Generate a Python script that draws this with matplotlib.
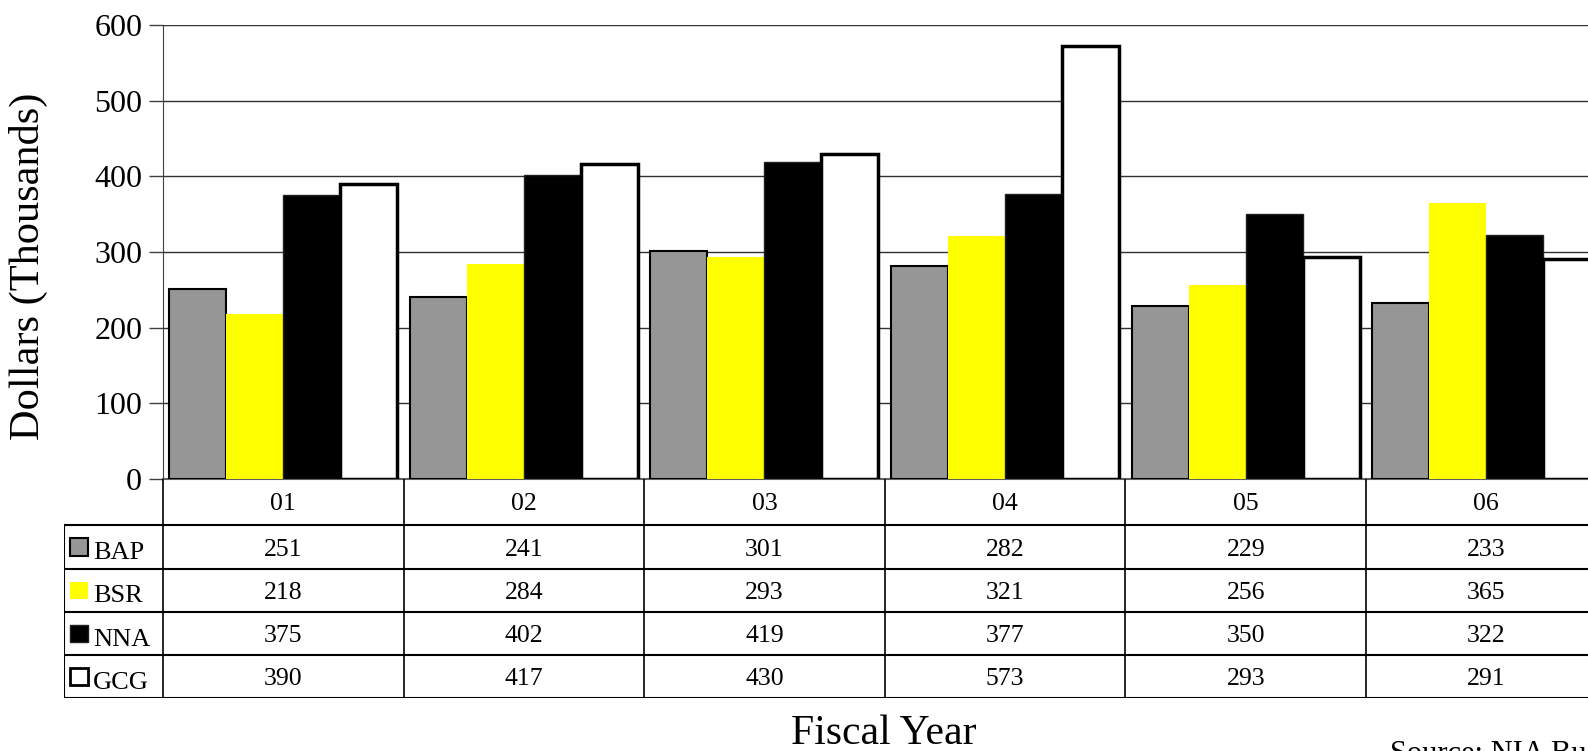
import numpy as np
import matplotlib
matplotlib.use("Agg")
import matplotlib.pyplot as plt
from matplotlib.patches import Rectangle

# Datos (miles de dolares) por ano fiscal
anos   = ["01", "02", "03", "04", "05", "06"]
series = ["BAP", "BSR", "NNA", "GCG"]
bap = [251, 241, 301, 282, 229, 233]
bsr = [218, 284, 293, 321, 256, 365]
nna = [375, 402, 419, 377, 350, 322]
gcg = [390, 417, 430, 573, 293, 291]
valores = [bap, bsr, nna, gcg]

colores  = ["#969696", "#ffff00", "#000000", "#ffffff"]
bordes   = ["#000000", "none", "#202020", "#000000"]
grosores = [1.5, 0, 1.0, 2.5]

plt.rcParams["font.family"] = ["Liberation Serif", "DejaVu Serif"]

W, H = 1588, 751
fig = plt.figure(figsize=(W / 100, H / 100), dpi=100)

# geometria en pixeles
x_izq, grupo = 163, 240.6
x_der = x_izq + grupo * len(anos)
y_cero, y_tope = 478.7, 25.3
y_tabla_fin = 698.3
leyenda_ancho = (163 - 64) / grupo

ax = fig.add_axes([x_izq / W, (H - y_cero) / H, (x_der - x_izq) / W, (y_cero - y_tope) / H])
x = np.arange(len(anos))
ancho = 57 / grupo
for i, (vals, c, b, g) in enumerate(zip(valores, colores, bordes, grosores)):
    ax.bar(x + (i - 1.5) * ancho, vals, ancho, color=c, edgecolor=b, linewidth=g, zorder=3)

ax.set_xlim(-0.5, len(anos) - 0.5)
ax.set_ylim(0, 600)
ax.set_yticks(range(0, 601, 100))
ax.tick_params(axis="y", labelsize=23, length=10, width=1, color="#404040", pad=5)
ax.set_xticks([])
ax.yaxis.grid(True, color="#303030", linewidth=1, zorder=0)
for s in ["top", "right"]:
    ax.spines[s].set_visible(False)
ax.spines["left"].set_color("#404040")
ax.spines["bottom"].set_color("#606060")
ax.spines["bottom"].set_linewidth(1.5)
ax.set_ylabel("Dollars (Thousands)", fontsize=30.5)
ax.yaxis.set_label_coords((48 - x_izq) / (x_der - x_izq), (y_cero - 266) / (y_cero - y_tope))

# tabla de datos debajo
alto_enc = 1.08
tx0 = -0.5 - leyenda_ancho
tab = fig.add_axes([64 / W, (H - y_tabla_fin) / H, (x_der - 64) / W, (y_tabla_fin - y_cero) / H])
tab.set_xlim(tx0, len(anos) - 0.5)
total = alto_enc + len(series)
tab.set_ylim(total, 0)
tab.axis("off")

lc = "#000000"
for k in range(len(anos) + 1):
    tab.vlines(k - 0.5, 0, total, color=lc, linewidth=1.2)
tab.vlines(tx0, alto_enc, total, color=lc, linewidth=1.5)
for r in range(len(series) + 1):
    tab.hlines(alto_enc + r, tx0, len(anos) - 0.5, color=lc, linewidth=1.5)

for k, a in enumerate(anos):
    tab.text(k, alto_enc / 2 + 0.04, a, ha="center", va="center", fontsize=18.5)
for r, (nombre, vals) in enumerate(zip(series, valores)):
    yc = alto_enc + r + 0.5
    for k, v in enumerate(vals):
        tab.text(k, yc + 0.06, str(v), ha="center", va="center", fontsize=18.5)
    sw = 18 / grupo
    tab.add_patch(Rectangle((tx0 + 6 / grupo, yc - 0.2), sw, 0.4,
                            facecolor=colores[r], edgecolor=bordes[r],
                            linewidth=min(grosores[r], 2) if grosores[r] else 0))
    tab.text(tx0 + 29 / grupo, yc + 0.14, nombre, ha="left", va="center", fontsize=19)

fig.text(884 / W, 1 - 744 / H, "Fiscal Year", ha="center", va="baseline", fontsize=30)
fig.text(1390 / W, 1 - 762 / H, "Source: NIA Budget Office", ha="left", va="baseline", fontsize=22)

fig.savefig("out.png", dpi=100)
